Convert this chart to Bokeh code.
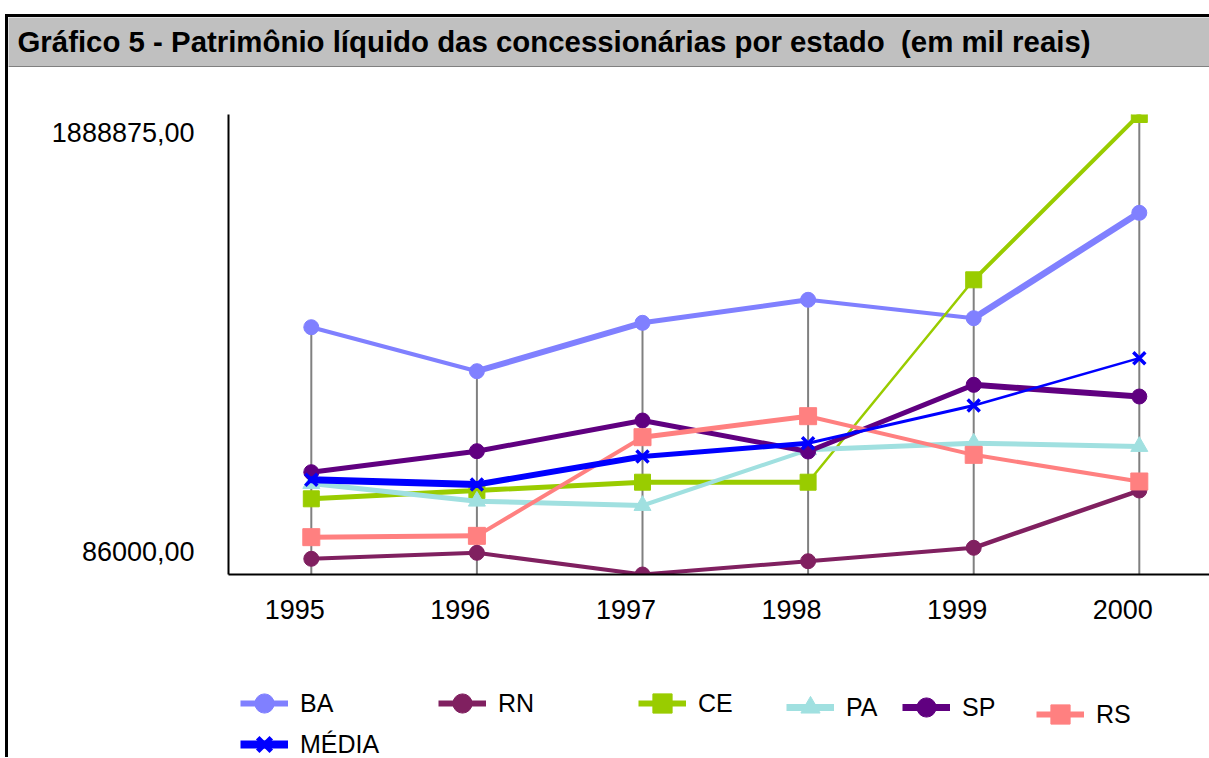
from bokeh.plotting import figure
from bokeh.models import (Range1d, FixedTicker, CustomJSTickFormatter, Legend,
                          LegendItem, Label, Span)
from bokeh.layouts import column
from bokeh.embed import file_html
from bokeh.resources import INLINE

# ---------------- data (mil reais) ----------------
years = [1995, 1996, 1997, 1998, 1999, 2000]
ba = [1055200, 882800, 1072400, 1162600, 1090500, 1503500]
rn = [147500, 171000, 86000, 138100, 190600, 415200]
ce = [382700, 415200, 447700, 447700, 1241000, 1888875]
pa = [442600, 373300, 356400, 574700, 600600, 587600]
sp = [487000, 569300, 689500, 568000, 829300, 783600]
rs = [232300, 237500, 624200, 706500, 555000, 450500]
media = [457000, 438700, 548400, 600600, 748300, 933900]
series_names = ["BA", "RN", "CE", "PA", "SP", "RS", "MÉDIA"]
title_text = "Gráfico 5 - Patrimônio líquido das concessionárias por estado\u00a0 (em mil reais)"

# ---------------- styles ----------------
colors = ["#8080FF", "#802060", "#99CC00", "#A0E0E0", "#600080", "#FF8080", "#0000FF"]
markers = ["circle", "circle", "square", "triangle", "circle", "square", "x"]
# line width of each segment (between consecutive years), as drawn in the original
seg_widths = [
    [4, 6, 5, 4, 6.5],        # BA
    [4, 4, 4, 4, 4.5],        # RN
    [5, 5, 5, 2.5, 4],        # CE
    [5, 5, 4, 5, 5],          # PA
    [5, 5, 5, 5, 6],          # SP
    [5, 4, 5, 4, 4],          # RS
    [7, 6, 5, 3, 2.5],        # MÉDIA
]
legend_line_widths = [6, 6, 6, 7, 7, 6, 8]
marker_sizes = [15, 15, 16, 17, 15, 17, 17]
FONT = "Liberation Sans"

W = 1201
TITLE_H = 50
MAIN_H = 560
LEG_H = 130
FRAME_LEFT = 220
FRAME_TOP = 47
FRAME_H = 460
PX_PER_YEAR = 165.6
frame_w = W - FRAME_LEFT

all_values = ba + rn + ce + pa + sp + rs
ymin, ymax = min(all_values), max(all_values)
all_series = [ba, rn, ce, pa, sp, rs, media]

# ---------------- title bar ----------------
tf = figure(width=W, height=TITLE_H, output_backend="svg", toolbar_location=None,
            x_axis_type=None, y_axis_type=None, min_border=0,
            background_fill_color="#C0C0C0", border_fill_color="#C0C0C0",
            outline_line_color=None)
tf.frame_align = False
tf.min_border_left = tf.min_border_right = tf.min_border_top = tf.min_border_bottom = 0
tf.add_layout(Label(x=9, y=26, x_units="screen", y_units="screen", text=title_text,
                    text_font=FONT, text_font_style="bold", text_font_size="29.4px",
                    text_color="black", text_baseline="alphabetic"))
tf.add_layout(Span(location=0.5, location_units="screen", dimension="width",
                   line_color="#404040", line_width=1))

# ---------------- main chart ----------------
x0 = years[0] - 0.5
p = figure(width=W, height=MAIN_H, output_backend="svg", toolbar_location=None,
           x_range=Range1d(x0, x0 + frame_w / PX_PER_YEAR),
           y_range=Range1d(ymin, ymax),
           background_fill_color="white", border_fill_color="white",
           outline_line_color=None)
p.frame_align = False
p.min_border_left = FRAME_LEFT
p.min_border_right = 0
p.min_border_top = FRAME_TOP
p.min_border_bottom = MAIN_H - FRAME_TOP - FRAME_H
p.xgrid.visible = False
p.ygrid.visible = False

# drop lines from highest value of each year down to the axis
state_series = [ba, rn, ce, pa, sp, rs]
tops = [max(v) for v in zip(*state_series)]
p.segment(x0=years, y0=[ymin] * len(years), x1=years, y1=tops,
          line_color="#808080", line_width=2)

for vals, c, m, sw, ms in zip(all_series, colors, markers, seg_widths, marker_sizes):
    p.segment(x0=years[:-1], y0=vals[:-1], x1=years[1:], y1=vals[1:],
              line_color=c, line_width=sw, line_cap="round")
    if m == "x":
        p.scatter(years, vals, marker=m, size=ms, line_color=c, line_width=3.5)
    else:
        p.scatter(years, vals, marker=m, size=ms, fill_color=c, line_color=c)

# axes
span = ymax - ymin
y_ticks = [ymin + 23 * span / FRAME_H, ymax - 18 * span / FRAME_H]
y_labels = [f"{ymin:.2f}".replace(".", ","), f"{ymax:.2f}".replace(".", ",")]
p.yaxis.ticker = FixedTicker(ticks=y_ticks)
p.yaxis.formatter = CustomJSTickFormatter(args=dict(labels=y_labels), code="return labels[index];")
p.xaxis.ticker = FixedTicker(ticks=[y - 0.1 for y in years])
p.xaxis.formatter = CustomJSTickFormatter(code="return Math.round(tick).toFixed(0);")
for ax in (p.xaxis[0], p.yaxis[0]):
    ax.axis_line_color = "black"
    ax.axis_line_width = 2
    ax.major_tick_in = 0
    ax.major_tick_out = 0
    ax.minor_tick_in = 0
    ax.minor_tick_out = 0
    ax.major_label_text_font = FONT
    ax.major_label_text_font_size = "27px"
    ax.major_label_text_color = "black"
p.yaxis.major_label_standoff = 34
p.xaxis.major_label_standoff = 25

# ---------------- legend panel ----------------
lf = figure(width=W, height=LEG_H, output_backend="svg", toolbar_location=None,
            x_axis_type=None, y_axis_type=None, min_border=0,
            x_range=Range1d(0, 1), y_range=Range1d(0, 1),
            background_fill_color="white", border_fill_color="white",
            outline_line_color=None)
lf.frame_align = False
lf.min_border_left = lf.min_border_right = lf.min_border_top = lf.min_border_bottom = 0
lf.xgrid.visible = False
lf.ygrid.visible = False

leg_pos = [(232, 29), (430, 29), (630, 29), (778, 25), (894, 25), (1028, 18), (232, -12)]
for name, vals, c, m, lw, pos in zip(series_names, all_series, colors, markers,
                                     legend_line_widths, leg_pos):
    # same series drawn here only as legend keys (outside this panel's visible range)
    lr = lf.line(years, vals, line_color=c, line_width=lw)
    if m == "x":
        sr = lf.scatter(years, vals, marker=m, line_color=c, line_width=5)
    else:
        sr = lf.scatter(years, vals, marker=m, fill_color=c, line_color=c)
    lg = Legend(items=[LegendItem(label=name, renderers=[lr, sr])], location=pos,
                padding=0, margin=0, spacing=0, border_line_color=None,
                background_fill_alpha=0, glyph_width=48, glyph_height=50,
                label_standoff=12, label_height=20, label_text_font=FONT,
                label_text_font_size="25px", label_text_color="black")
    lf.add_layout(lg)

layout = column(tf, p, lf, spacing=0,
                styles={"border-top": "3px solid black", "border-left": "3px solid black",
                        "margin-top": "14px", "margin-left": "5px"})

with open("out.html", "w") as f:
    f.write(file_html(layout, INLINE, title="Gráfico 5"))
